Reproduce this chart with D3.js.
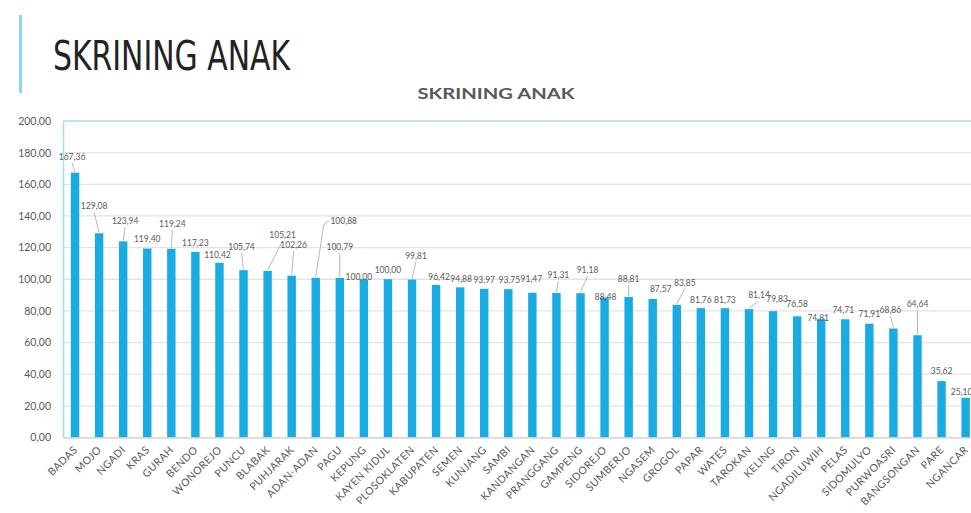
<!DOCTYPE html>
<html>
<head>
<meta charset="utf-8">
<script src="https://cdn.jsdelivr.net/npm/d3@7"></script>
<style>
  html, body { margin: 0; padding: 0; background: #fff; }
  svg { display: block; }
</style>
</head>
<body>
<svg id="chart" width="971" height="513"></svg>
<script>
// data
var categories = ["BADAS", "MOJO", "NGADI", "KRAS", "GURAH", "BENDO", "WONOREJO", "PUNCU",
  "BLABAK", "PUHJARAK", "ADAN-ADAN", "PAGU", "KEPUNG", "KAYEN KIDUL", "PLOSOKLATEN",
  "KABUPATEN", "SEMEN", "KUNJANG", "SAMBI", "KANDANGAN", "PRANGGANG", "GAMPENG",
  "SIDOREJO", "SUMBERJO", "NGASEM", "GROGOL", "PAPAR", "WATES", "TAROKAN", "KELING",
  "TIRON", "NGADILUWIH", "PELAS", "SIDOMULYO", "PURWOASRI", "BANGSONGAN", "PARE", "NGANCAR"];
var values = [167.36, 129.08, 123.94, 119.40, 119.24, 117.23, 110.42, 105.74,
  105.21, 102.26, 100.88, 100.79, 100.00, 100.00, 99.81,
  96.42, 94.88, 93.97, 93.75, 91.47, 91.31, 91.18,
  88.48, 88.81, 87.57, 83.85, 81.76, 81.73, 81.14, 79.83,
  76.58, 74.81, 74.71, 71.91, 68.86, 64.64, 35.62, 25.10];
var yTicks = [0, 20, 40, 60, 80, 100, 120, 140, 160, 180, 200];
var pageTitle = "SKRINING ANAK";
var chartTitle = "SKRINING ANAK";

// data label placement (offset from bar top, like the dragged labels in the original)
var labelDx = [-3, -5, 2, 0, 1, 0, -2, -2, 15, 2, 28, 0, -5, 0, 4, 3, 1, 0, 1, -1, 2, 7,
  1, 0, 8, 8, 0, 0, 10, 4, 0, -3, -2, 0, -3, 0, 0, -4];
var labelDy = [-16, -27, -20, -10, -25, -9, -8, -23, -36, -31, -57, -31, -2, -9, -24, -8, -8, -9, -9, -14, -18, -23,
  0, -18, -10, -22, -8, -8, -14, -12, -12, -1, -9, -10, -19, -31, -10, -6];

var svg = d3.select("#chart");
var W = +svg.attr("width"), H = +svg.attr("height");

var barColor = "#1aabe2";
var textGray = "#595959";
var font = "Lato, 'Noto Sans', sans-serif";

var fmt = d3.formatLocale({decimal: ",", thousands: ".", grouping: [3], currency: ["", ""]}).format(".2f");

var rows = categories.map(function(c, i) {
  return {cat: c, value: values[i], dx: labelDx[i], dy: labelDy[i]};
});

// page heading with the accent bar
svg.append("rect")
  .attr("x", 19).attr("y", 15).attr("width", 3).attr("height", 78)
  .attr("fill", "#8fd5f3");
svg.append("text")
  .attr("x", 53).attr("y", 70)
  .attr("font-family", "'Liberation Sans Narrow', 'DejaVu Sans Condensed', 'Liberation Sans', sans-serif")
  .attr("font-size", 40)
  .attr("fill", "#222")
  .attr("textLength", 237)
  .attr("lengthAdjust", "spacingAndGlyphs")
  .text(pageTitle);

svg.append("text")
  .attr("x", 496).attr("y", 99)
  .attr("text-anchor", "middle")
  .attr("font-family", font)
  .attr("font-weight", "bold")
  .attr("font-size", 16)
  .attr("fill", textGray)
  .attr("textLength", 157)
  .attr("lengthAdjust", "spacingAndGlyphs")
  .text(chartTitle);

// scales
var x = d3.scaleBand()
  .domain(categories)
  .range([63, 63 + 24.07 * categories.length])
  .paddingInner(0.65)
  .paddingOuter(0.325);

var y = d3.scaleLinear()
  .domain([0, 200])
  .range([437.5, 121]);

function cx(d) { return x(d.cat) + x.bandwidth() / 2; }

// gridlines
var g = svg.append("g");
g.selectAll(".grid")
  .data(yTicks)
  .enter().append("line")
  .attr("class", "grid")
  .attr("x1", 63).attr("x2", W)
  .attr("y1", function(d) { return y(d); })
  .attr("y2", function(d) { return y(d); })
  .attr("stroke", function(d) { return d === 200 ? "#a9ddf5" : "#e3e3e3"; })
  .attr("stroke-width", function(d) { return d === 200 ? 1.6 : 1.3; });

// y axis
var yAxis = g.append("g")
  .attr("transform", "translate(63,0)")
  .call(d3.axisLeft(y).tickValues(yTicks).tickSize(0).tickPadding(12).tickFormat(fmt));
yAxis.select(".domain").attr("stroke", "#a9ddf5").attr("stroke-width", 1.6);
yAxis.selectAll(".tick text")
  .attr("fill", textGray)
  .attr("font-family", font)
  .attr("font-size", 10.5);

// bars
g.selectAll(".bar")
  .data(rows)
  .enter().append("rect")
  .attr("class", "bar")
  .attr("x", function(d) { return x(d.cat); })
  .attr("width", x.bandwidth())
  .attr("y", function(d) { return y(d.value); })
  .attr("height", function(d) { return y(0) - y(d.value); })
  .attr("fill", barColor);

// leader lines for labels moved away from the bars
g.selectAll(".leader")
  .data(rows.filter(function(d) { return d.dy < -15 || Math.abs(d.dx) > 9; }))
  .enter().append("polyline")
  .attr("class", "leader")
  .attr("points", function(d) {
    var x0 = cx(d), y0 = y(d.value) - 1;
    var lx = cx(d) + d.dx, ly = y(d.value) + d.dy;
    if (d.dx > 20) {
      // elbow into the left side of the label
      return [[x0, y0], [lx - 20, ly + 4], [lx - 15, ly]].join(" ");
    }
    return [[x0, y0], [lx, ly + 6]].join(" ");
  })
  .attr("fill", "none")
  .attr("stroke", "#a6a6a6")
  .attr("stroke-width", 0.8);

// value labels
g.selectAll(".val")
  .data(rows)
  .enter().append("text")
  .attr("class", "val")
  .attr("x", function(d) { return cx(d) + d.dx; })
  .attr("y", function(d) { return y(d.value) + d.dy; })
  .attr("dy", "0.35em")
  .attr("text-anchor", "middle")
  .attr("font-family", font)
  .attr("font-size", 8.5)
  .attr("fill", textGray)
  .text(function(d) { return fmt(d.value); });

// x axis
var xAxis = g.append("g")
  .attr("transform", "translate(0," + y(0) + ")")
  .call(d3.axisBottom(x).tickSize(0).tickPadding(0));
xAxis.select(".domain").attr("stroke", "#d9d9d9").attr("stroke-width", 1.3);
xAxis.selectAll(".tick text")
  .attr("text-anchor", "end")
  .attr("dy", 0)
  .attr("transform", "translate(3,13) rotate(-45)")
  .attr("fill", textGray)
  .attr("font-family", font)
  .attr("font-size", 10.5)
  .attr("letter-spacing", 0.4);
</script>
</body>
</html>
